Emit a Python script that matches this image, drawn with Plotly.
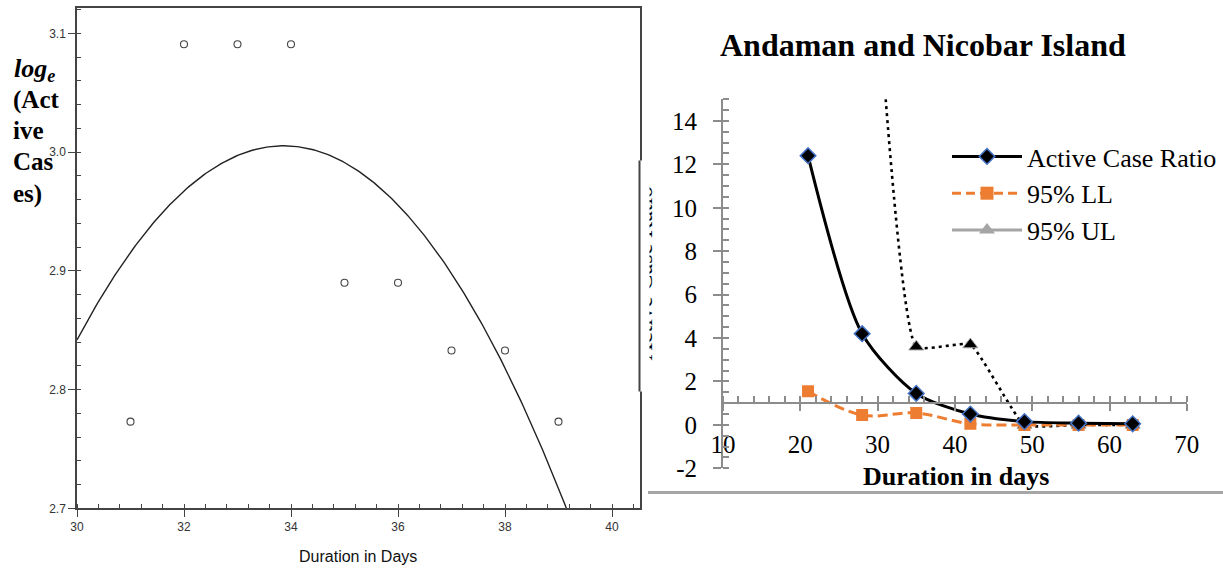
import numpy as np
import plotly.graph_objects as go

W, H = 1223, 568
def px(x): return x / W
def py(y): return 1 - y / H

# ---------------- data ----------------
# Left panel: log_e(active cases) vs day
days_left = [31, 32, 33, 34, 35, 36, 37, 38, 39]
log_active = [2.773, 3.091, 3.091, 3.091, 2.890, 2.890, 2.833, 2.833, 2.773]

# Right panel: Andaman and Nicobar Island
days_right = [21, 28, 35, 42, 49, 56, 63]
active_ratio = [12.4, 4.2, 1.45, 0.5, 0.15, 0.08, 0.05]
ll_95 = [1.55, 0.45, 0.55, 0.05, 0.0, 0.0, 0.0]
ul_95 = [60.0, 30.0, 3.6, 3.7, 0.0, 0.0, 0.0]

y2_tickvals = [-2, 0, 2, 4, 6, 8, 10, 12, 14]
y2_ticktext = ["-2", "0", "2", "4", "6", "8", "10", "12", "14"]

# quadratic fit for the left panel
coef = np.polyfit(days_left, log_active, 2)
fit_x = np.linspace(30, 40.6, 300)
fit_y = np.polyval(coef, fit_x)

fig = go.Figure()

# ---- left panel ----
fig.add_trace(go.Scatter(x=fit_x, y=fit_y, mode="lines",
                         line=dict(color="#222222", width=1.4),
                         showlegend=False, xaxis="x", yaxis="y", hoverinfo="skip"))
fig.add_trace(go.Scatter(x=days_left, y=log_active, mode="markers",
                         marker=dict(symbol="circle-open", size=7, color="#444444",
                                     line=dict(color="#444444", width=1.1)),
                         showlegend=False, xaxis="x", yaxis="y"))

# ---- right panel ----
fig.add_trace(go.Scatter(x=days_right, y=ul_95, mode="lines+markers",
                         line=dict(color="black", width=2.6, dash="3px,4px", shape="spline", smoothing=0.4),
                         marker=dict(symbol="triangle-up", size=13, color="black",
                                     line=dict(color="#A5A5A5", width=1)),
                         showlegend=False, xaxis="x2", yaxis="y2"))
fig.add_trace(go.Scatter(x=days_right, y=ll_95, mode="lines+markers", name="95% LL",
                         line=dict(color="#ED7D31", width=3, dash="10px,5px", shape="spline"),
                         marker=dict(symbol="square", size=12, color="#ED7D31"),
                         showlegend=False, xaxis="x2", yaxis="y2"))
fig.add_trace(go.Scatter(x=days_right, y=active_ratio, mode="lines+markers", name="Active Case Ratio",
                         line=dict(color="black", width=3, shape="spline", smoothing=0.75),
                         marker=dict(symbol="diamond", size=12, color="black",
                                     line=dict(color="#4472C4", width=1.5)),
                         showlegend=False, xaxis="x2", yaxis="y2"))
# legend entries
fig.add_trace(go.Scatter(x=[None], y=[None], mode="lines+markers", name="Active Case Ratio",
                         line=dict(color="black", width=3),
                         marker=dict(symbol="diamond", size=12, color="black",
                                     line=dict(color="#4472C4", width=1.5)),
                         xaxis="x2", yaxis="y2"))
fig.add_trace(go.Scatter(x=[None], y=[None], mode="lines+markers", name="95% LL",
                         line=dict(color="#ED7D31", width=3, dash="9px,5px"),
                         marker=dict(symbol="square", size=13, color="#ED7D31"),
                         xaxis="x2", yaxis="y2"))
fig.add_trace(go.Scatter(x=[None], y=[None], mode="lines+markers", name="95% UL",
                         line=dict(color="#A5A5A5", width=3),
                         marker=dict(symbol="triangle-up", size=14, color="#A5A5A5"),
                         xaxis="x2", yaxis="y2"))

left_font = dict(family="Liberation Sans", size=12, color="#333333")
serif = "Liberation Serif"

fig.update_layout(
    width=W, height=H,
    margin=dict(l=0, r=0, t=0, b=0, pad=0, autoexpand=False),
    paper_bgcolor="white", plot_bgcolor="white",
    xaxis=dict(domain=[px(77), px(639.5)], range=[30, 30 + (639.5 - 77) / 53.5],
               tick0=30, dtick=2, ticks="outside", ticklen=7, tickwidth=1.3, tickcolor="#444",
               showline=True, linecolor="#444", linewidth=1.5, mirror=True,
               showgrid=False, zeroline=False, tickfont=left_font, anchor="y", automargin=False,
               minor=dict(tick0=30, dtick=0.4, ticks="inside", ticklen=5, tickcolor="#444", tickwidth=1.2)),
    yaxis=dict(domain=[py(508.3), py(8)], range=[2.7, 2.7 + (508.3 - 8) / 1187],
               tick0=2.7, dtick=0.1, tickformat=".1f", ticks="outside", ticklen=7, tickwidth=1.3,
               tickcolor="#444", showline=True, linecolor="#444", linewidth=1.5, mirror=True,
               showgrid=False, zeroline=False, tickfont=left_font, anchor="x", automargin=False,
               minor=dict(tick0=2.7, dtick=0.02, ticks="inside", ticklen=4, tickcolor="#444", tickwidth=1.2)),
    xaxis2=dict(domain=[px(723), px(1186.8)], range=[10, 70], anchor="free", position=py(402.6),
                tick0=10, dtick=10, ticks="outside", ticklen=7, tickwidth=1.5, tickcolor="#8c8c8c",
                showline=True, linecolor="#8c8c8c", linewidth=2, automargin=False,
                showgrid=False, zeroline=False, ticklabelstandoff=12,
                tickfont=dict(family=serif, size=25, color="black"),
                minor=dict(tick0=10, dtick=2, ticks="inside", ticklen=6, tickcolor="#8c8c8c", tickwidth=1.5)),
    yaxis2=dict(domain=[py(468.3), py(99.2)], range=[-2, 15], anchor="x2",
                tickmode="array", tickvals=y2_tickvals, ticktext=y2_ticktext,
                ticks="outside", ticklen=8, tickwidth=1.5, tickcolor="#8c8c8c",
                showline=True, linecolor="#8c8c8c", linewidth=2, automargin=False,
                showgrid=False, zeroline=False, ticklabelstandoff=11,
                tickfont=dict(family=serif, size=25, color="black"),
                minor=dict(tick0=0, dtick=0.5, ticks="inside", ticklen=6, tickcolor="#8c8c8c", tickwidth=1.5)),
    legend=dict(x=px(947), y=py(133), xanchor="left", yanchor="top",
                font=dict(family=serif, size=26, color="black"),
                bgcolor="rgba(0,0,0,0)", tracegroupgap=0, itemwidth=70),
    shapes=[dict(type="line", xref="paper", yref="paper", x0=px(648), x1=1, y0=py(492.5), y1=py(492.5),
                 line=dict(color="#a6a6a6", width=3))],
)

ann = []
# left y title (stacked lines)
ann.append(dict(text="<b><i>log<sub>e</sub></i></b>", x=px(12), y=py(70), xanchor="left", yanchor="middle",
                font=dict(family=serif, size=26, color="black")))
for txt, yy in [("(Act", 100), ("ive", 131), ("Cas", 162), ("es)", 194)]:
    ann.append(dict(text="<b>" + txt + "</b>", x=px(11), y=py(yy), xanchor="left", yanchor="middle",
                    font=dict(family=serif, size=25, color="black")))
# left x title
ann.append(dict(text="Duration in Days", x=px(358), y=py(556), xanchor="center", yanchor="middle",
                font=dict(family="Liberation Sans", size=16, color="#111")))
# right title
ann.append(dict(text="<b>Andaman and Nicobar Island</b>", x=px(923), y=py(45), xanchor="center", yanchor="middle",
                font=dict(family=serif, size=32, color="black")))
# right x title
ann.append(dict(text="<b>Duration in days</b>", x=px(956), y=py(476), xanchor="center", yanchor="middle",
                font=dict(family=serif, size=26, color="black")))
# right y title (cropped in original)
ann.append(dict(text="Active Case Ratio", textangle=-90, x=px(643.5), y=py(273), xanchor="center", yanchor="middle",
                font=dict(family=serif, size=24, color="black")))
# cover for cropped part
ann.append(dict(text=" ", x=px(612), y=py(160), xanchor="left", yanchor="top", width=36, height=230,
                bgcolor="white", borderpad=0))
ann.append(dict(text=" ", x=px(639.5), y=py(160), xanchor="center", yanchor="top", width=1, height=230,
                bgcolor="#444", borderpad=0))
for a in ann:
    a.setdefault("xref", "paper"); a.setdefault("yref", "paper"); a.setdefault("showarrow", False)
fig.update_layout(annotations=ann)

fig.write_html("out.html")
